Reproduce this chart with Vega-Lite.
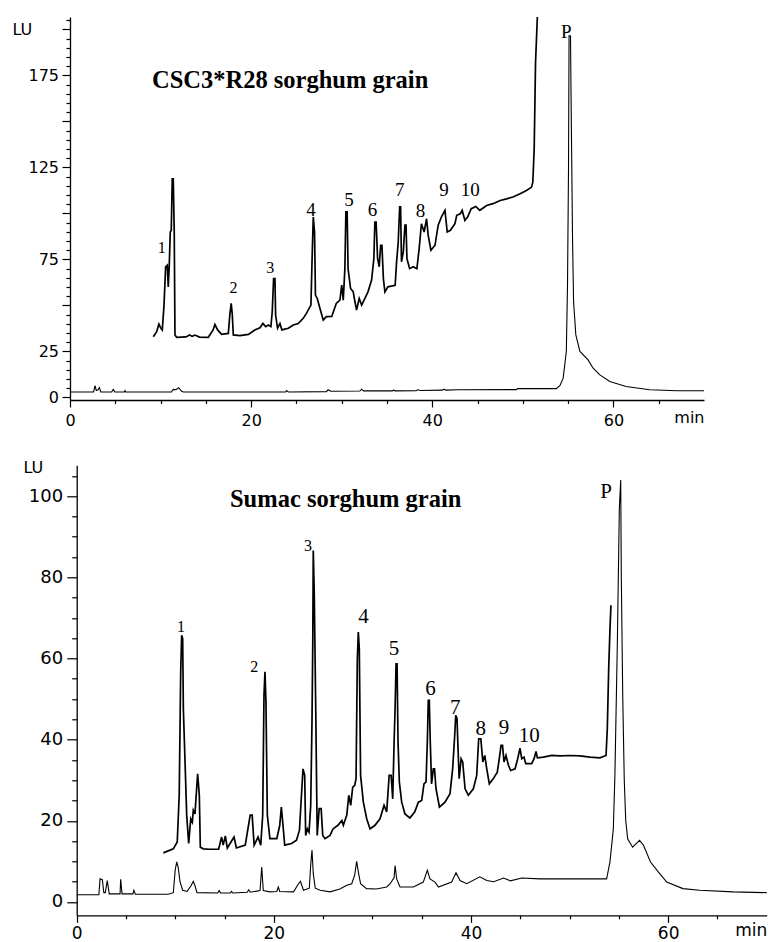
{
  "$schema": "https://vega.github.io/schema/vega-lite/v6.json",
  "autosize": {"type": "pad"},
  "padding": {"left": 12, "top": 12, "right": 1, "bottom": 2},
  "background": "white",
  "config": {"view": {"stroke": null}},
  "bounds": "flush",
  "spacing": 65.3,
  "datasets": {
    "topTrace": [
      {"series":"upper","time":9.2,"lu":33.0},{"series":"upper","time":9.57,"lu":35.8},{"series":"upper","time":9.82,"lu":39.9},{"series":"upper","time":10.04,"lu":37.6},{"series":"upper","time":10.19,"lu":36.7},{"series":"upper","time":10.38,"lu":50.2},{"series":"upper","time":10.56,"lu":71.0},{"series":"upper","time":10.74,"lu":71.9},{"series":"upper","time":10.85,"lu":60.1},{"series":"upper","time":10.96,"lu":71.9},{"series":"upper","time":11.07,"lu":89.9},{"series":"upper","time":11.18,"lu":90.8},{"series":"upper","time":11.29,"lu":118.8},{"series":"upper","time":11.4,"lu":118.8},{"series":"upper","time":11.51,"lu":89.9},{"series":"upper","time":11.59,"lu":34.0},{"series":"upper","time":11.78,"lu":32.7},{"series":"upper","time":12.8,"lu":32.9},{"series":"upper","time":13.2,"lu":34.0},{"series":"upper","time":13.5,"lu":33.2},{"series":"upper","time":13.8,"lu":33.9},{"series":"upper","time":14.3,"lu":32.8},{"series":"upper","time":15.27,"lu":32.7},{"series":"upper","time":15.8,"lu":36.7},{"series":"upper","time":16.0,"lu":39.7},{"series":"upper","time":16.3,"lu":36.7},{"series":"upper","time":16.74,"lu":34.3},{"series":"upper","time":17.48,"lu":34.8},{"series":"upper","time":17.66,"lu":45.7},{"series":"upper","time":17.8,"lu":51.1},{"series":"upper","time":17.92,"lu":44.8},{"series":"upper","time":18.03,"lu":34.0},{"series":"upper","time":18.76,"lu":33.6},{"series":"upper","time":19.7,"lu":34.3},{"series":"upper","time":20.4,"lu":36.7},{"series":"upper","time":20.97,"lu":37.9},{"series":"upper","time":21.3,"lu":40.2},{"series":"upper","time":21.6,"lu":38.5},{"series":"upper","time":21.9,"lu":39.4},{"series":"upper","time":22.18,"lu":38.5},{"series":"upper","time":22.33,"lu":46.6},{"series":"upper","time":22.48,"lu":64.6},{"series":"upper","time":22.63,"lu":64.6},{"series":"upper","time":22.7,"lu":44.8},{"series":"upper","time":22.92,"lu":37.6},{"series":"upper","time":23.18,"lu":40.2},{"series":"upper","time":23.4,"lu":36.7},{"series":"upper","time":24.1,"lu":37.6},{"series":"upper","time":24.65,"lu":39.4},{"series":"upper","time":25.2,"lu":40.2},{"series":"upper","time":25.75,"lu":43.0},{"series":"upper","time":26.1,"lu":45.7},{"series":"upper","time":26.4,"lu":48.4},{"series":"upper","time":26.6,"lu":50.2},{"series":"upper","time":26.75,"lu":79.1},{"series":"upper","time":26.86,"lu":98.0},{"series":"upper","time":27.0,"lu":89.9},{"series":"upper","time":27.1,"lu":55.6},{"series":"upper","time":27.3,"lu":53.8},{"series":"upper","time":27.6,"lu":48.4},{"series":"upper","time":27.96,"lu":42.1},{"series":"upper","time":28.3,"lu":43.9},{"series":"upper","time":28.9,"lu":44.0},{"series":"upper","time":29.4,"lu":51.1},{"series":"upper","time":29.8,"lu":52.9},{"series":"upper","time":30.0,"lu":61.0},{"series":"upper","time":30.17,"lu":52.9},{"series":"upper","time":30.35,"lu":70.0},{"series":"upper","time":30.46,"lu":100.8},{"series":"upper","time":30.6,"lu":100.8},{"series":"upper","time":30.7,"lu":70.0},{"series":"upper","time":30.98,"lu":59.2},{"series":"upper","time":31.27,"lu":57.4},{"series":"upper","time":31.46,"lu":52.0},{"series":"upper","time":31.64,"lu":47.5},{"series":"upper","time":31.93,"lu":53.8},{"series":"upper","time":32.2,"lu":50.2},{"series":"upper","time":32.56,"lu":53.8},{"series":"upper","time":32.9,"lu":57.4},{"series":"upper","time":33.3,"lu":63.8},{"series":"upper","time":33.55,"lu":75.5},{"series":"upper","time":33.66,"lu":95.3},{"series":"upper","time":33.8,"lu":95.3},{"series":"upper","time":33.96,"lu":75.5},{"series":"upper","time":34.14,"lu":71.0},{"series":"upper","time":34.3,"lu":82.7},{"series":"upper","time":34.44,"lu":82.7},{"series":"upper","time":34.6,"lu":64.6},{"series":"upper","time":34.77,"lu":57.4},{"series":"upper","time":35.1,"lu":60.1},{"series":"upper","time":35.9,"lu":61.0},{"series":"upper","time":36.06,"lu":73.7},{"series":"upper","time":36.24,"lu":84.5},{"series":"upper","time":36.4,"lu":103.5},{"series":"upper","time":36.5,"lu":103.5},{"series":"upper","time":36.6,"lu":73.7},{"series":"upper","time":36.8,"lu":79.1},{"series":"upper","time":36.98,"lu":93.6},{"series":"upper","time":37.1,"lu":93.6},{"series":"upper","time":37.2,"lu":75.5},{"series":"upper","time":37.5,"lu":70.0},{"series":"upper","time":37.9,"lu":71.0},{"series":"upper","time":38.3,"lu":70.0},{"series":"upper","time":38.55,"lu":80.9},{"series":"upper","time":38.8,"lu":94.4},{"series":"upper","time":39.1,"lu":89.9},{"series":"upper","time":39.37,"lu":97.1},{"series":"upper","time":39.55,"lu":88.1},{"series":"upper","time":39.85,"lu":80.0},{"series":"upper","time":40.3,"lu":82.7},{"series":"upper","time":40.65,"lu":93.6},{"series":"upper","time":41.0,"lu":98.0},{"series":"upper","time":41.4,"lu":101.7},{"series":"upper","time":41.65,"lu":89.9},{"series":"upper","time":42.0,"lu":90.8},{"series":"upper","time":42.5,"lu":94.4},{"series":"upper","time":42.7,"lu":99.0},{"series":"upper","time":43.1,"lu":99.8},{"series":"upper","time":43.3,"lu":101.7},{"series":"upper","time":43.6,"lu":96.2},{"series":"upper","time":43.9,"lu":98.0},{"series":"upper","time":44.3,"lu":102.6},{"series":"upper","time":44.8,"lu":103.8},{"series":"upper","time":45.25,"lu":101.7},{"series":"upper","time":46.0,"lu":104.3},{"series":"upper","time":46.7,"lu":105.3},{"series":"upper","time":47.5,"lu":107.0},{"series":"upper","time":48.2,"lu":107.9},{"series":"upper","time":48.9,"lu":108.9},{"series":"upper","time":49.7,"lu":110.7},{"series":"upper","time":50.4,"lu":112.5},{"series":"upper","time":50.96,"lu":114.3},{"series":"upper","time":51.1,"lu":117.0},{"series":"upper","time":51.25,"lu":135.0},{"series":"upper","time":51.4,"lu":182.0},{"series":"upper","time":51.6,"lu":206.7},
      {"series":"lower","time":0,"lu":3.0},{"series":"lower","time":2.6,"lu":3.0},{"series":"lower","time":2.76,"lu":6.5},{"series":"lower","time":2.9,"lu":3.8},{"series":"lower","time":3.1,"lu":4.2},{"series":"lower","time":3.24,"lu":5.4},{"series":"lower","time":3.4,"lu":3.0},{"series":"lower","time":4.6,"lu":3.0},{"series":"lower","time":4.78,"lu":4.4},{"series":"lower","time":4.95,"lu":3.0},{"series":"lower","time":6.0,"lu":3.0},{"series":"lower","time":6.07,"lu":3.8},{"series":"lower","time":6.15,"lu":3.0},{"series":"lower","time":11.2,"lu":3.0},{"series":"lower","time":11.4,"lu":4.4},{"series":"lower","time":11.7,"lu":4.2},{"series":"lower","time":12.0,"lu":5.3},{"series":"lower","time":12.3,"lu":3.5},{"series":"lower","time":12.5,"lu":3.0},{"series":"lower","time":23.8,"lu":3.0},{"series":"lower","time":23.9,"lu":3.8},{"series":"lower","time":24.1,"lu":3.0},{"series":"lower","time":28.3,"lu":3.2},{"series":"lower","time":28.5,"lu":4.2},{"series":"lower","time":28.8,"lu":3.4},{"series":"lower","time":32.0,"lu":3.5},{"series":"lower","time":32.2,"lu":4.5},{"series":"lower","time":32.4,"lu":3.6},{"series":"lower","time":35.6,"lu":3.6},{"series":"lower","time":35.7,"lu":4.0},{"series":"lower","time":35.9,"lu":3.6},{"series":"lower","time":38.2,"lu":3.7},{"series":"lower","time":38.4,"lu":4.2},{"series":"lower","time":38.7,"lu":3.8},{"series":"lower","time":41.1,"lu":4.0},{"series":"lower","time":41.3,"lu":4.5},{"series":"lower","time":41.5,"lu":4.0},{"series":"lower","time":42.9,"lu":4.2},{"series":"lower","time":49.3,"lu":4.3},{"series":"lower","time":49.4,"lu":4.8},{"series":"lower","time":53.7,"lu":4.8},{"series":"lower","time":54.1,"lu":6.5},{"series":"lower","time":54.45,"lu":10.5},{"series":"lower","time":54.8,"lu":25},{"series":"lower","time":54.93,"lu":61},{"series":"lower","time":55.04,"lu":124},{"series":"lower","time":55.1,"lu":196.5},{"series":"lower","time":55.26,"lu":196.5},{"series":"lower","time":55.33,"lu":160},{"series":"lower","time":55.48,"lu":88},{"series":"lower","time":55.6,"lu":52},{"series":"lower","time":55.85,"lu":34},{"series":"lower","time":56.3,"lu":25},{"series":"lower","time":57.2,"lu":20.4},{"series":"lower","time":57.76,"lu":15.9},{"series":"lower","time":58.5,"lu":12.3},{"series":"lower","time":59.6,"lu":8.7},{"series":"lower","time":61.4,"lu":6.0},{"series":"lower","time":64.0,"lu":4.2},{"series":"lower","time":67.0,"lu":3.7},{"series":"lower","time":70,"lu":3.7}
    ],
    "topLabels": [
      {"kind":"small","time":10.12,"lu":81.4,"label":"1"},{"kind":"small","time":18.06,"lu":59.7,"label":"2"},{"kind":"small","time":22.1,"lu":70.6,"label":"3"},
      {"kind":"large","time":26.6,"lu":101.7,"label":"4"},{"kind":"large","time":30.8,"lu":107.1,"label":"5"},{"kind":"large","time":33.4,"lu":101.7,"label":"6"},{"kind":"large","time":36.4,"lu":112.7,"label":"7"},{"kind":"large","time":38.7,"lu":101.3,"label":"8"},{"kind":"large","time":41.3,"lu":112.7,"label":"9"},{"kind":"large","time":44.2,"lu":112.9,"label":"10"},{"kind":"large","time":54.8,"lu":198.3,"label":"P"},
      {"kind":"title","time":9.05,"lu":168.1,"label":"CSC3*R28 sorghum grain"}
    ],
    "bottomTrace": [
      {"series":"upper","time":8.79,"lu":12.1},{"series":"upper","time":9.8,"lu":13.1},{"series":"upper","time":10.2,"lu":14.8},{"series":"upper","time":10.4,"lu":26.3},{"series":"upper","time":10.55,"lu":56.7},{"series":"upper","time":10.65,"lu":65.7},{"series":"upper","time":10.75,"lu":64.9},{"series":"upper","time":10.82,"lu":47.6},{"series":"upper","time":10.96,"lu":36.9},{"series":"upper","time":11.16,"lu":21.4},{"series":"upper","time":11.36,"lu":14.4},{"series":"upper","time":11.57,"lu":20.5},{"series":"upper","time":11.73,"lu":19.7},{"series":"upper","time":11.83,"lu":22.6},{"series":"upper","time":12.0,"lu":21.7},{"series":"upper","time":12.1,"lu":25.4},{"series":"upper","time":12.27,"lu":31.6},{"series":"upper","time":12.44,"lu":26.3},{"series":"upper","time":12.54,"lu":13.5},{"series":"upper","time":12.85,"lu":13.1},{"series":"upper","time":13.5,"lu":13.0},{"series":"upper","time":14.4,"lu":13.0},{"series":"upper","time":14.7,"lu":16.0},{"series":"upper","time":14.86,"lu":14.0},{"series":"upper","time":15.08,"lu":16.3},{"series":"upper","time":15.28,"lu":13.3},{"series":"upper","time":15.96,"lu":16.0},{"series":"upper","time":16.2,"lu":13.3},{"series":"upper","time":17.1,"lu":14.0},{"series":"upper","time":17.6,"lu":21.4},{"series":"upper","time":17.8,"lu":21.4},{"series":"upper","time":18.0,"lu":14.0},{"series":"upper","time":18.4,"lu":16.0},{"series":"upper","time":18.67,"lu":14.0},{"series":"upper","time":18.87,"lu":21.4},{"series":"upper","time":19.0,"lu":50.9},{"series":"upper","time":19.1,"lu":56.7},{"series":"upper","time":19.2,"lu":49.3},{"series":"upper","time":19.34,"lu":21.4},{"series":"upper","time":19.6,"lu":15.6},{"series":"upper","time":20.3,"lu":15.6},{"series":"upper","time":20.6,"lu":18.9},{"series":"upper","time":20.76,"lu":23.4},{"series":"upper","time":20.9,"lu":19.7},{"series":"upper","time":21.1,"lu":14.0},{"series":"upper","time":21.8,"lu":14.4},{"series":"upper","time":22.3,"lu":15.2},{"series":"upper","time":22.6,"lu":17.7},{"series":"upper","time":22.8,"lu":26.3},{"series":"upper","time":22.96,"lu":32.8},{"series":"upper","time":23.13,"lu":31.2},{"series":"upper","time":23.23,"lu":16.4},{"series":"upper","time":23.4,"lu":18.0},{"series":"upper","time":23.57,"lu":17.2},{"series":"upper","time":23.74,"lu":23.8},{"series":"upper","time":23.87,"lu":44.3},{"series":"upper","time":23.95,"lu":64.0},{"series":"upper","time":24.0,"lu":86.6},{"series":"upper","time":24.1,"lu":76.0},{"series":"upper","time":24.25,"lu":47.6},{"series":"upper","time":24.35,"lu":26.3},{"series":"upper","time":24.4,"lu":16.4},{"series":"upper","time":24.6,"lu":23.0},{"series":"upper","time":24.8,"lu":23.0},{"series":"upper","time":24.96,"lu":16.4},{"series":"upper","time":25.2,"lu":15.6},{"series":"upper","time":25.7,"lu":16.4},{"series":"upper","time":26.0,"lu":18.0},{"series":"upper","time":26.5,"lu":18.9},{"series":"upper","time":26.9,"lu":20.1},{"series":"upper","time":27.05,"lu":18.9},{"series":"upper","time":27.4,"lu":21.4},{"series":"upper","time":27.6,"lu":26.3},{"series":"upper","time":27.8,"lu":23.8},{"series":"upper","time":28.0,"lu":28.3},{"series":"upper","time":28.2,"lu":28.7},{"series":"upper","time":28.34,"lu":30.4},{"series":"upper","time":28.47,"lu":59.9},{"series":"upper","time":28.57,"lu":66.5},{"series":"upper","time":28.67,"lu":62.4},{"series":"upper","time":28.8,"lu":31.2},{"series":"upper","time":29.08,"lu":24.6},{"series":"upper","time":29.42,"lu":20.5},{"series":"upper","time":29.76,"lu":18.0},{"series":"upper","time":30.26,"lu":18.9},{"series":"upper","time":30.77,"lu":20.5},{"series":"upper","time":31.18,"lu":23.8},{"series":"upper","time":31.45,"lu":22.2},{"series":"upper","time":31.7,"lu":31.2},{"series":"upper","time":31.9,"lu":31.2},{"series":"upper","time":32.06,"lu":25.4},{"series":"upper","time":32.2,"lu":39.4},{"series":"upper","time":32.3,"lu":47.6},{"series":"upper","time":32.4,"lu":58.7},{"series":"upper","time":32.5,"lu":58.7},{"series":"upper","time":32.6,"lu":39.4},{"series":"upper","time":32.73,"lu":29.6},{"series":"upper","time":32.97,"lu":24.6},{"series":"upper","time":33.3,"lu":21.7},{"series":"upper","time":33.8,"lu":20.7},{"series":"upper","time":34.3,"lu":22.2},{"series":"upper","time":34.66,"lu":24.6},{"series":"upper","time":35.0,"lu":25.0},{"series":"upper","time":35.23,"lu":29.1},{"series":"upper","time":35.44,"lu":29.6},{"series":"upper","time":35.57,"lu":39.4},{"series":"upper","time":35.67,"lu":49.7},{"series":"upper","time":35.77,"lu":49.7},{"series":"upper","time":35.87,"lu":39.4},{"series":"upper","time":36.0,"lu":29.1},{"series":"upper","time":36.18,"lu":32.8},{"series":"upper","time":36.3,"lu":32.8},{"series":"upper","time":36.45,"lu":27.9},{"series":"upper","time":36.8,"lu":23.4},{"series":"upper","time":37.36,"lu":24.6},{"series":"upper","time":37.87,"lu":26.7},{"series":"upper","time":38.14,"lu":32.8},{"series":"upper","time":38.35,"lu":41.1},{"series":"upper","time":38.45,"lu":46.0},{"series":"upper","time":38.58,"lu":45.2},{"series":"upper","time":38.7,"lu":36.9},{"series":"upper","time":38.8,"lu":30.4},{"series":"upper","time":39.0,"lu":35.3},{"series":"upper","time":39.16,"lu":34.5},{"series":"upper","time":39.4,"lu":27.9},{"series":"upper","time":39.73,"lu":26.3},{"series":"upper","time":40.24,"lu":27.9},{"series":"upper","time":40.58,"lu":31.2},{"series":"upper","time":40.78,"lu":40.2},{"series":"upper","time":41.0,"lu":40.2},{"series":"upper","time":41.2,"lu":34.5},{"series":"upper","time":41.4,"lu":36.1},{"series":"upper","time":41.6,"lu":32.8},{"series":"upper","time":41.86,"lu":29.1},{"series":"upper","time":42.27,"lu":30.4},{"series":"upper","time":42.67,"lu":32.0},{"series":"upper","time":42.87,"lu":35.3},{"series":"upper","time":43.05,"lu":38.6},{"series":"upper","time":43.2,"lu":38.6},{"series":"upper","time":43.35,"lu":34.5},{"series":"upper","time":43.55,"lu":36.1},{"series":"upper","time":43.8,"lu":33.7},{"series":"upper","time":44.03,"lu":32.4},{"series":"upper","time":44.47,"lu":32.8},{"series":"upper","time":44.74,"lu":35.3},{"series":"upper","time":44.97,"lu":37.9},{"series":"upper","time":45.15,"lu":35.3},{"series":"upper","time":45.38,"lu":35.7},{"series":"upper","time":45.55,"lu":34.1},{"series":"upper","time":46.16,"lu":34.1},{"series":"upper","time":46.4,"lu":35.3},{"series":"upper","time":46.6,"lu":37.1},{"series":"upper","time":46.73,"lu":35.5},{"series":"upper","time":47.34,"lu":35.7},{"series":"upper","time":48.2,"lu":36.1},{"series":"upper","time":49.03,"lu":36.0},{"series":"upper","time":50.05,"lu":36.1},{"series":"upper","time":51.06,"lu":36.0},{"series":"upper","time":52.07,"lu":35.7},{"series":"upper","time":53.08,"lu":35.5},{"series":"upper","time":53.7,"lu":36.1},{"series":"upper","time":53.83,"lu":42.7},{"series":"upper","time":53.97,"lu":57.5},{"series":"upper","time":54.1,"lu":67.3},{"series":"upper","time":54.2,"lu":73.1},
      {"series":"lower","time":0,"lu":1.8},{"series":"lower","time":2.25,"lu":1.8},{"series":"lower","time":2.37,"lu":5.7},{"series":"lower","time":2.6,"lu":5.5},{"series":"lower","time":2.75,"lu":2.3},{"series":"lower","time":2.9,"lu":2.3},{"series":"lower","time":3.1,"lu":5.3},{"series":"lower","time":3.3,"lu":2.0},{"series":"lower","time":4.4,"lu":2.0},{"series":"lower","time":4.46,"lu":5.6},{"series":"lower","time":4.6,"lu":2.0},{"series":"lower","time":5.7,"lu":2.0},{"series":"lower","time":5.8,"lu":2.9},{"series":"lower","time":5.95,"lu":1.9},{"series":"lower","time":9.3,"lu":1.9},{"series":"lower","time":9.8,"lu":2.3},{"series":"lower","time":10.0,"lu":8.0},{"series":"lower","time":10.15,"lu":9.9},{"series":"lower","time":10.3,"lu":8.5},{"series":"lower","time":10.48,"lu":5.0},{"series":"lower","time":10.75,"lu":2.9},{"series":"lower","time":11.2,"lu":2.6},{"series":"lower","time":11.6,"lu":4.0},{"series":"lower","time":11.83,"lu":5.1},{"series":"lower","time":12.0,"lu":4.0},{"series":"lower","time":12.2,"lu":2.3},{"series":"lower","time":14.3,"lu":2.2},{"series":"lower","time":14.45,"lu":2.8},{"series":"lower","time":14.6,"lu":2.2},{"series":"lower","time":15.6,"lu":2.2},{"series":"lower","time":15.7,"lu":2.6},{"series":"lower","time":15.85,"lu":2.2},{"series":"lower","time":17.3,"lu":2.4},{"series":"lower","time":17.45,"lu":3.0},{"series":"lower","time":17.6,"lu":2.4},{"series":"lower","time":18.6,"lu":2.8},{"series":"lower","time":18.77,"lu":8.6},{"series":"lower","time":18.93,"lu":2.8},{"series":"lower","time":19.6,"lu":2.5},{"series":"lower","time":20.3,"lu":2.6},{"series":"lower","time":20.45,"lu":3.7},{"series":"lower","time":20.6,"lu":2.6},{"series":"lower","time":22.0,"lu":2.5},{"series":"lower","time":22.5,"lu":4.5},{"series":"lower","time":22.7,"lu":5.1},{"series":"lower","time":23.0,"lu":2.9},{"series":"lower","time":23.6,"lu":3.4},{"series":"lower","time":23.74,"lu":9.2},{"series":"lower","time":23.87,"lu":12.8},{"series":"lower","time":24.0,"lu":7.0},{"series":"lower","time":24.2,"lu":3.4},{"series":"lower","time":24.7,"lu":2.9},{"series":"lower","time":25.7,"lu":2.5},{"series":"lower","time":26.7,"lu":3.2},{"series":"lower","time":27.4,"lu":4.1},{"series":"lower","time":27.9,"lu":4.5},{"series":"lower","time":28.2,"lu":6.6},{"series":"lower","time":28.4,"lu":10.0},{"series":"lower","time":28.6,"lu":7.0},{"series":"lower","time":28.8,"lu":4.5},{"series":"lower","time":29.4,"lu":3.3},{"series":"lower","time":30.4,"lu":3.2},{"series":"lower","time":31.45,"lu":3.7},{"series":"lower","time":31.8,"lu":4.5},{"series":"lower","time":32.2,"lu":6.0},{"series":"lower","time":32.3,"lu":9.0},{"series":"lower","time":32.46,"lu":5.7},{"series":"lower","time":32.8,"lu":3.7},{"series":"lower","time":34.15,"lu":3.7},{"series":"lower","time":35.16,"lu":4.9},{"series":"lower","time":35.57,"lu":7.8},{"series":"lower","time":35.84,"lu":5.7},{"series":"lower","time":36.35,"lu":4.9},{"series":"lower","time":36.7,"lu":3.7},{"series":"lower","time":38.04,"lu":4.9},{"series":"lower","time":38.48,"lu":7.2},{"series":"lower","time":38.89,"lu":5.3},{"series":"lower","time":39.57,"lu":4.5},{"series":"lower","time":40.9,"lu":6.2},{"series":"lower","time":41.6,"lu":5.3},{"series":"lower","time":42.3,"lu":5.0},{"series":"lower","time":43.3,"lu":5.9},{"series":"lower","time":44.0,"lu":5.2},{"series":"lower","time":45.15,"lu":5.9},{"series":"lower","time":47.0,"lu":5.7},{"series":"lower","time":53.76,"lu":5.7},{"series":"lower","time":54.1,"lu":9.9},{"series":"lower","time":54.44,"lu":18.0},{"series":"lower","time":54.6,"lu":31.2},{"series":"lower","time":54.85,"lu":64.0},{"series":"lower","time":55.05,"lu":96.9},{"series":"lower","time":55.19,"lu":104.0},{"series":"lower","time":55.25,"lu":80.0},{"series":"lower","time":55.4,"lu":50.0},{"series":"lower","time":55.55,"lu":30.0},{"series":"lower","time":55.7,"lu":20.0},{"series":"lower","time":55.9,"lu":15.5},{"series":"lower","time":56.4,"lu":13.5},{"series":"lower","time":57.1,"lu":15.2},{"series":"lower","time":57.5,"lu":14.0},{"series":"lower","time":58.2,"lu":9.9},{"series":"lower","time":59.0,"lu":7.4},{"series":"lower","time":59.86,"lu":4.9},{"series":"lower","time":61.5,"lu":3.3},{"series":"lower","time":63.2,"lu":2.9},{"series":"lower","time":66.6,"lu":2.5},{"series":"lower","time":70,"lu":2.3}
    ],
    "bottomLabels": [
      {"kind":"small","time":10.59,"lu":67.8,"label":"1"},{"kind":"small","time":18.0,"lu":57.9,"label":"2"},{"kind":"small","time":23.46,"lu":87.8,"label":"3"},
      {"kind":"large","time":29.1,"lu":70.1,"label":"4"},{"kind":"large","time":32.2,"lu":62.3,"label":"5"},{"kind":"large","time":35.9,"lu":52.4,"label":"6"},{"kind":"large","time":38.4,"lu":47.7,"label":"7"},{"kind":"large","time":41.0,"lu":42.7,"label":"8"},{"kind":"large","time":43.35,"lu":42.9,"label":"9"},{"kind":"large","time":45.9,"lu":40.9,"label":"10"},{"kind":"large","time":53.7,"lu":101.0,"label":"P"},
      {"kind":"title","time":15.55,"lu":97.4,"label":"Sumac sorghum grain"}
    ]
  },
  "vconcat": [
    {
      "width": 634,
      "height": 383,
      "encoding": {
        "x": {"field": "time", "type": "quantitative",
          "scale": {"domain": [0, 70], "nice": false, "zero": false},
          "axis": {
            "values": [0,5,10,15,20,25,30,35,40,45,50,55,60,65,70],
            "labelExpr": "datum.value == 70 ? 'min' : (datum.value % 20 == 0 ? datum.label : '')",
            "tickSize": {"condition": {"test": "datum.value % 20 == 0", "value": 7}, "value": 3.5},
            "tickOpacity": {"condition": {"test": "datum.value == 70", "value": 0}, "value": 1},
            "labelAlign": {"condition": {"test": "datum.value == 70", "value": "right"}, "value": "center"},
            "labelFlush": false, "labelOverlap": false, "labelBound": false,
            "labelBaseline": "middle", "labelPadding": 13.5,
            "labelFont": "DejaVu Sans", "labelFontSize": 16, "labelColor": "black",
            "title": null, "grid": false,
            "domainColor": "black", "domainWidth": 1.3, "tickColor": "black", "tickWidth": 1.2
          }
        },
        "y": {"field": "lu", "type": "quantitative",
          "scale": {"domain": [-1.36, 206.7], "nice": false, "zero": false},
          "axis": {
            "values": [0,5,10,15,20,25,30,35,40,45,50,55,60,65,70,75,80,85,90,95,100,105,110,115,120,125,130,135,140,145,150,155,160,165,170,175,180,185,190,195,200,205],
            "labelExpr": "(datum.value == 0 || datum.value == 25 || datum.value == 75 || datum.value == 125 || datum.value == 175) ? datum.label : ''",
            "tickSize": {"condition": {"test": "datum.value % 25 == 0", "value": 8}, "value": 4},
            "labelPadding": 3.5, "labelOverlap": false, "labelBound": false, "labelFlush": false,
            "labelFont": "DejaVu Sans", "labelFontSize": 16, "labelColor": "black",
            "title": "LU", "titleAngle": 0, "titleAlign": "left", "titleBaseline": "middle",
            "titleX": -58, "titleY": 12.5, "titleFont": "DejaVu Sans", "titleFontSize": 16,
            "titleFontWeight": "normal", "titleColor": "black",
            "grid": false, "domainColor": "black", "domainWidth": 1.3, "tickColor": "black", "tickWidth": 1.2
          }
        }
      },
      "layer": [
        {
          "data": {"name": "topTrace"},
          "mark": {"type": "line", "color": "black"},
          "encoding": {
            "detail": {"field": "series", "type": "nominal"},
            "strokeWidth": {"field": "series", "type": "nominal",
              "scale": {"domain": ["upper", "lower"], "range": [1.7, 1.1]}, "legend": null}
          }
        },
        {
          "data": {"name": "topLabels"},
          "transform": [{"filter": "datum.kind == 'small'"}],
          "mark": {"type": "text", "font": "Liberation Serif", "fontSize": 16, "baseline": "middle", "align": "center", "color": "black"},
          "encoding": {"text": {"field": "label"}}
        },
        {
          "data": {"name": "topLabels"},
          "transform": [{"filter": "datum.kind == 'large'"}],
          "mark": {"type": "text", "font": "Liberation Serif", "fontSize": 19, "baseline": "middle", "align": "center", "color": "black"},
          "encoding": {"text": {"field": "label"}}
        },
        {
          "data": {"name": "topLabels"},
          "transform": [{"filter": "datum.kind == 'title'"}],
          "mark": {"type": "text", "font": "Liberation Serif", "fontSize": 24.5, "fontWeight": "bold", "baseline": "alphabetic", "align": "left", "color": "black"},
          "encoding": {"text": {"field": "label"}}
        }
      ]
    },
    {
      "width": 697,
      "height": 450,
      "encoding": {
        "x": {"field": "time", "type": "quantitative",
          "scale": {"domain": [0, 70], "range": [6.7, 696.7], "nice": false, "zero": false},
          "axis": {
            "values": [0,5,10,15,20,25,30,35,40,45,50,55,60,65,70],
            "labelExpr": "datum.value == 70 ? 'min' : (datum.value % 20 == 0 ? datum.label : '')",
            "tickSize": {"condition": {"test": "datum.value % 20 == 0", "value": 7}, "value": 3.5},
            "tickOpacity": {"condition": {"test": "datum.value == 70", "value": 0}, "value": 1},
            "labelAlign": {"condition": {"test": "datum.value == 70", "value": "right"}, "value": "center"},
            "labelFlush": false, "labelOverlap": false, "labelBound": false,
            "labelBaseline": "middle", "labelPadding": 11.5,
            "labelFont": "DejaVu Sans", "labelFontSize": 17, "labelColor": "black",
            "title": null, "grid": false,
            "domainColor": "black", "domainWidth": 1.3, "tickColor": "black", "tickWidth": 1.2
          }
        },
        "y": {"field": "lu", "type": "quantitative",
          "scale": {"domain": [-3.28, 107.6], "nice": false, "zero": false},
          "axis": {
            "values": [0,5,10,15,20,25,30,35,40,45,50,55,60,65,70,75,80,85,90,95,100,105],
            "labelExpr": "datum.value % 20 == 0 ? datum.label : ''",
            "tickSize": {"condition": {"test": "datum.value % 20 == 0", "value": 10}, "value": 5},
            "offset": -6.7,
            "labelPadding": 4, "labelOverlap": false, "labelBound": false, "labelFlush": false,
            "labelFont": "DejaVu Sans", "labelFontSize": 18, "labelColor": "black",
            "title": "LU", "titleAngle": 0, "titleAlign": "left", "titleBaseline": "middle",
            "titleX": -53.7, "titleY": 1.7, "titleFont": "DejaVu Sans", "titleFontSize": 16,
            "titleFontWeight": "normal", "titleColor": "black",
            "grid": false, "domainColor": "black", "domainWidth": 1.3, "tickColor": "black", "tickWidth": 1.2
          }
        }
      },
      "layer": [
        {
          "data": {"name": "bottomTrace"},
          "mark": {"type": "line", "color": "black"},
          "encoding": {
            "detail": {"field": "series", "type": "nominal"},
            "strokeWidth": {"field": "series", "type": "nominal",
              "scale": {"domain": ["upper", "lower"], "range": [1.6, 1.2]}, "legend": null}
          }
        },
        {
          "data": {"name": "bottomLabels"},
          "transform": [{"filter": "datum.kind == 'small'"}],
          "mark": {"type": "text", "font": "Liberation Serif", "fontSize": 16, "baseline": "middle", "align": "center", "color": "black"},
          "encoding": {"text": {"field": "label"}}
        },
        {
          "data": {"name": "bottomLabels"},
          "transform": [{"filter": "datum.kind == 'large'"}],
          "mark": {"type": "text", "font": "Liberation Serif", "fontSize": 21, "baseline": "middle", "align": "center", "color": "black"},
          "encoding": {"text": {"field": "label"}}
        },
        {
          "data": {"name": "bottomLabels"},
          "transform": [{"filter": "datum.kind == 'title'"}],
          "mark": {"type": "text", "font": "Liberation Serif", "fontSize": 24.5, "fontWeight": "bold", "baseline": "alphabetic", "align": "left", "color": "black"},
          "encoding": {"text": {"field": "label"}}
        }
      ]
    }
  ]
}
